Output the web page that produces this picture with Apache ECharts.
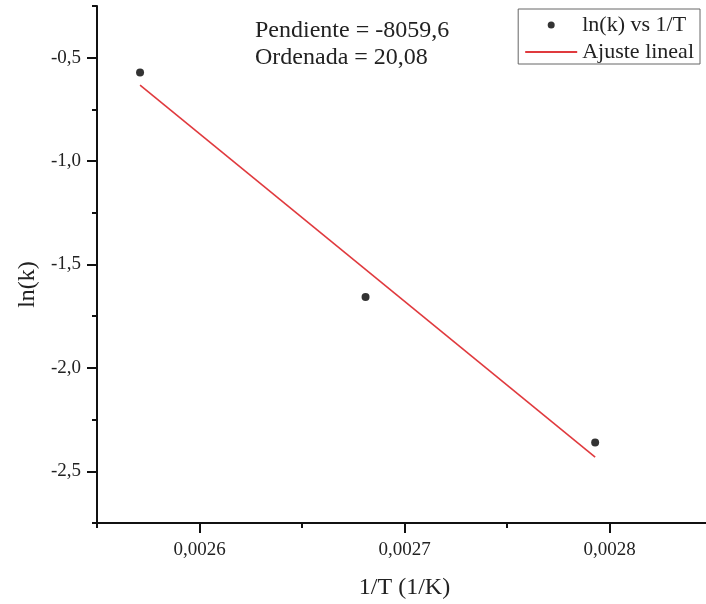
<!DOCTYPE html>
<html>
<head>
<meta charset="utf-8">
<script src="https://cdn.jsdelivr.net/npm/echarts@6/dist/echarts.min.js"></script>
<style>
  html, body { margin: 0; padding: 0; background: #fff; }
  #chart { width: 706px; height: 604px; }
</style>
</head>
<body>
<div id="chart"></div>
<script>
// datos
const invT = [0.002571, 0.002681, 0.002793]
const lnK = [-0.572, -1.657, -2.361]
// extremos de la recta de ajuste
const fitX = [0.002571, 0.002793]
const fitY = [-0.633, -2.432]
const annotation = ['Pendiente = -8059,6', 'Ordenada = 20,08']
const seriesNames = ['ln(k) vs 1/T', 'Ajuste lineal']

const serif = 'Liberation Serif'
const chart = echarts.init(document.getElementById('chart'))

const pts = invT.map((x, i) => [x, lnK[i]])
const fit = fitX.map((x, i) => [x, fitY[i]])

const option = {
  animation: false,
  textStyle: { fontFamily: serif },
  title: {
    text: annotation.join('\n'),
    left: 250,
    top: 12,
    textStyle: { fontFamily: serif, fontSize: 24, fontWeight: 'normal', color: '#222', lineHeight: 27 }
  },
  legend: {
    orient: 'vertical',
    right: 6,
    top: 9,
    padding: [5, 6, 1, 6],
    itemGap: 5,
    itemWidth: 52,
    itemHeight: 7,
    borderColor: '#666',
    borderWidth: 1,
    textStyle: { fontFamily: serif, fontSize: 22, color: '#222' },
    data: [
      { name: seriesNames[0], icon: 'circle' },
      { name: seriesNames[1], itemStyle: { opacity: 0 } }
    ]
  },
  grid: [
    // grid de datos (sigue mas alla del borde derecho)
    { left: 97, top: 6, width: 615, bottom: 81, outerBoundsMode: 'none' },
    // grid auxiliar para las marcas principales
    { left: 199.5, top: 57.7, width: 410, height: 413.6, outerBoundsMode: 'none' }
  ],
  xAxis: [
    {
      gridIndex: 0,
      type: 'value',
      min: 0.00255,
      max: 0.00285,
      interval: 0.00005,
      splitLine: { show: false },
      axisLine: { lineStyle: { color: '#111', width: 2 } },
      axisTick: { length: 5, lineStyle: { color: '#111', width: 2 } },
      axisLabel: { show: false },
      name: '1/T (1/K)',
      nameLocation: 'middle',
      nameGap: 53,
      nameTextStyle: { fontFamily: serif, fontSize: 24, color: '#222' }
    },
    {
      gridIndex: 1,
      type: 'value',
      min: 0.0026,
      max: 0.0028,
      interval: 0.0001,
      offset: 51.7,
      splitLine: { show: false },
      axisLine: { show: false },
      axisTick: { show: true, length: 10, lineStyle: { color: '#111', width: 2 } },
      axisLabel: {
        margin: 18,
        fontFamily: serif,
        fontSize: 19,
        color: '#222',
        formatter: v => v.toFixed(4).replace('.', ',')
      }
    }
  ],
  yAxis: [
    {
      gridIndex: 0,
      type: 'value',
      min: -2.75,
      max: -0.25,
      interval: 0.25,
      splitLine: { show: false },
      axisLine: { lineStyle: { color: '#111', width: 2 } },
      axisTick: { length: 5, lineStyle: { color: '#111', width: 2 } },
      axisLabel: { show: false },
      name: 'ln(k)',
      nameLocation: 'middle',
      nameGap: 57,
      nameTextStyle: { fontFamily: serif, fontSize: 24, color: '#222', padding: [0, 40, 0, 0] }
    },
    {
      gridIndex: 1,
      type: 'value',
      min: -2.5,
      max: -0.5,
      interval: 0.5,
      offset: 102.5,
      splitLine: { show: false },
      axisLine: { show: false },
      axisTick: { show: true, length: 10, lineStyle: { color: '#111', width: 2 } },
      axisLabel: {
        margin: 16,
        fontFamily: serif,
        fontSize: 19,
        color: '#222',
        formatter: v => v.toFixed(1).replace('.', ',')
      }
    }
  ],
  series: [
    {
      name: seriesNames[0],
      type: 'scatter',
      xAxisIndex: 0,
      yAxisIndex: 0,
      symbol: 'circle',
      symbolSize: 8,
      itemStyle: { color: '#000' },
      data: pts
    },
    {
      name: seriesNames[1],
      type: 'line',
      xAxisIndex: 0,
      yAxisIndex: 0,
      symbol: 'none',
      lineStyle: { color: '#e03a3e', width: 1.6 },
      itemStyle: { color: '#e03a3e' },
      data: fit
    }
  ]
}
chart.setOption(option)
</script>
</body>
</html>
